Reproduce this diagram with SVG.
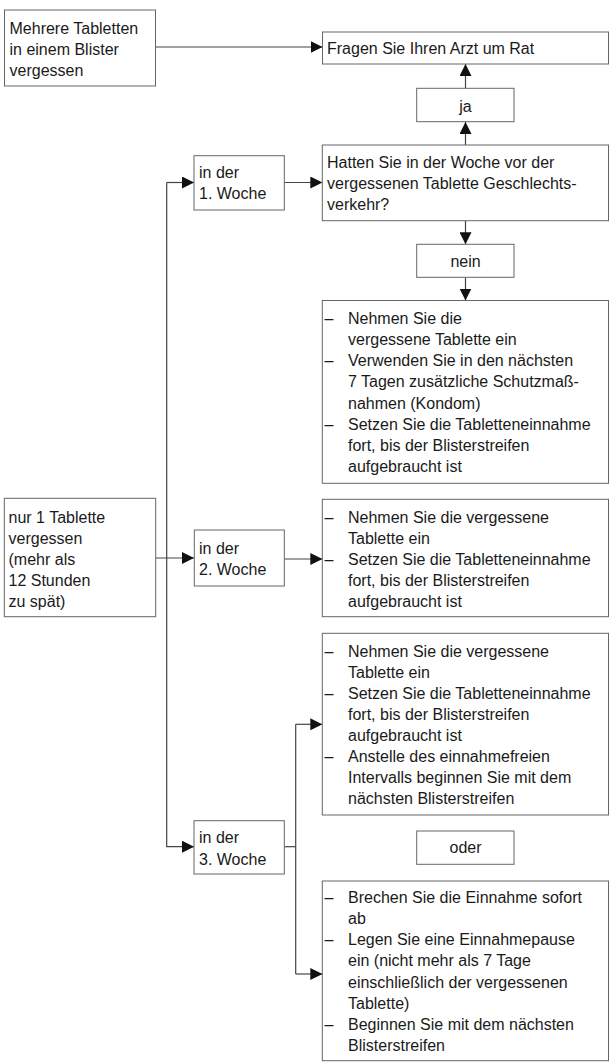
<svg xmlns="http://www.w3.org/2000/svg" width="610" height="1063" viewBox="0 0 610 1063">
<style>
.box{fill:#fff;stroke:#666;stroke-width:1}
.t{font-family:"Liberation Sans",Arial,sans-serif;font-size:16px;fill:#1a1a1a}
.c{text-anchor:middle}
.con{fill:none;stroke:#444;stroke-width:1.2}
</style>
<defs>
<marker id="ah" markerUnits="userSpaceOnUse" markerWidth="12" markerHeight="12" refX="12" refY="6" orient="auto">
<path d="M0,0 L12,6 L0,12 z" fill="#111"/>
</marker>
</defs>
<rect width="610" height="1063" fill="#fff"/>
<g id="connectors">
<path class="con" d="M156,47 H322.5" marker-end="url(#ah)"/>
<path class="con" d="M465.5,145 V122" marker-end="url(#ah)"/>
<path class="con" d="M465.5,88.3 V64" marker-end="url(#ah)"/>
<path class="con" d="M465.5,220.7 V244.3" marker-end="url(#ah)"/>
<path class="con" d="M465.5,277.3 V300.5" marker-end="url(#ah)"/>
<path class="con" d="M166.7,182.5 H194" marker-end="url(#ah)"/>
<path class="con" d="M166.7,182.5 V846.7 H194" marker-end="url(#ah)"/>
<path class="con" d="M155.7,558 H194" marker-end="url(#ah)"/>
<path class="con" d="M284.3,182.5 H322.3" marker-end="url(#ah)"/>
<path class="con" d="M284.3,559 H322.3" marker-end="url(#ah)"/>
<path class="con" d="M284.3,846.7 H295.7"/>
<path class="con" d="M295.7,724.3 V974"/>
<path class="con" d="M295.7,724.3 H322.3" marker-end="url(#ah)"/>
<path class="con" d="M295.7,974 H322.3" marker-end="url(#ah)"/>
</g>
<g id="mehrere">
<rect class="box" x="4.5" y="10" width="151" height="76"/>
<text class="t" x="9.5" y="34.3">Mehrere Tabletten</text>
<text class="t" x="9.5" y="55">in einem Blister</text>
<text class="t" x="9.5" y="75.7">vergessen</text>
</g>
<g id="arzt">
<rect class="box" x="322.5" y="32" width="286" height="32"/>
<text class="t" x="327" y="54">Fragen Sie Ihren Arzt um Rat</text>
</g>
<g id="ja">
<rect class="box" x="416.7" y="88.3" width="97.3" height="33.4"/>
<text class="t c" x="465.5" y="111.7">ja</text>
</g>
<g id="frage">
<rect class="box" x="322.3" y="145" width="286.2" height="75.7"/>
<text class="t" x="327" y="168.3">Hatten Sie in der Woche vor der</text>
<text class="t" x="327" y="189.2">vergessenen Tablette Geschlechts-</text>
<text class="t" x="327" y="210">verkehr?</text>
</g>
<g id="nein">
<rect class="box" x="416.7" y="244.3" width="97.3" height="33"/>
<text class="t c" x="465.5" y="266.7">nein</text>
</g>
<g id="woche1-massnahmen">
<rect class="box" x="322.3" y="300.5" width="286.2" height="182.8"/>
<text class="t" x="324.5" y="324.3">–</text>
<text class="t" x="348" y="324.3">Nehmen Sie die</text>
<text class="t" x="348" y="345.3">vergessene Tablette ein</text>
<text class="t" x="324.5" y="366.4">–</text>
<text class="t" x="348" y="366.4">Verwenden Sie in den nächsten</text>
<text class="t" x="348" y="387.4">7 Tagen zusätzliche Schutzmaß-</text>
<text class="t" x="348" y="408.5">nahmen (Kondom)</text>
<text class="t" x="324.5" y="429.5">–</text>
<text class="t" x="348" y="429.5">Setzen Sie die Tabletteneinnahme</text>
<text class="t" x="348" y="450.6">fort, bis der Blisterstreifen</text>
<text class="t" x="348" y="471.6">aufgebraucht ist</text>
</g>
<g id="nur1">
<rect class="box" x="4.3" y="498.3" width="151.4" height="118.4"/>
<text class="t" x="8.5" y="523.3">nur 1 Tablette</text>
<text class="t" x="8.5" y="544.3">vergessen</text>
<text class="t" x="8.5" y="565.3">(mehr als</text>
<text class="t" x="8.5" y="586.3">12 Stunden</text>
<text class="t" x="8.5" y="607.3">zu spät)</text>
</g>
<g id="woche1">
<rect class="box" x="194" y="155.7" width="90.3" height="54.3"/>
<text class="t" x="199" y="178.3">in der</text>
<text class="t" x="199" y="199.3">1. Woche</text>
</g>
<g id="woche2">
<rect class="box" x="194.3" y="530" width="90" height="56"/>
<text class="t" x="199" y="553.7">in der</text>
<text class="t" x="199" y="574.7">2. Woche</text>
</g>
<g id="woche3">
<rect class="box" x="194" y="820.7" width="90.3" height="53.3"/>
<text class="t" x="199" y="843.3">in der</text>
<text class="t" x="199" y="864.5">3. Woche</text>
</g>
<g id="woche2-massnahmen">
<rect class="box" x="322.3" y="499.3" width="286.2" height="117.4"/>
<text class="t" x="324.5" y="522.7">–</text>
<text class="t" x="348" y="522.7">Nehmen Sie die vergessene</text>
<text class="t" x="348" y="543.8">Tablette ein</text>
<text class="t" x="324.5" y="564.8">–</text>
<text class="t" x="348" y="564.8">Setzen Sie die Tabletteneinnahme</text>
<text class="t" x="348" y="585.9">fort, bis der Blisterstreifen</text>
<text class="t" x="348" y="606.9">aufgebraucht ist</text>
</g>
<g id="woche3-weiter">
<rect class="box" x="322.3" y="633.3" width="286.2" height="181.7"/>
<text class="t" x="324.5" y="656.7">–</text>
<text class="t" x="348" y="656.7">Nehmen Sie die vergessene</text>
<text class="t" x="348" y="677.7">Tablette ein</text>
<text class="t" x="324.5" y="698.8">–</text>
<text class="t" x="348" y="698.8">Setzen Sie die Tabletteneinnahme</text>
<text class="t" x="348" y="719.8">fort, bis der Blisterstreifen</text>
<text class="t" x="348" y="740.9">aufgebraucht ist</text>
<text class="t" x="324.5" y="761.9">–</text>
<text class="t" x="348" y="761.9">Anstelle des einnahmefreien</text>
<text class="t" x="348" y="783">Intervalls beginnen Sie mit dem</text>
<text class="t" x="348" y="804">nächsten Blisterstreifen</text>
</g>
<g id="oder">
<rect class="box" x="416.7" y="831" width="97.3" height="33.3"/>
<text class="t c" x="465.5" y="853.3">oder</text>
</g>
<g id="woche3-pause">
<rect class="box" x="322.3" y="881" width="286.2" height="179.7"/>
<text class="t" x="324.5" y="903.3">–</text>
<text class="t" x="348" y="903.3">Brechen Sie die Einnahme sofort</text>
<text class="t" x="348" y="924.3">ab</text>
<text class="t" x="324.5" y="945.4">–</text>
<text class="t" x="348" y="945.4">Legen Sie eine Einnahmepause</text>
<text class="t" x="348" y="966.4">ein (nicht mehr als 7 Tage</text>
<text class="t" x="348" y="987.5">einschließlich der vergessenen</text>
<text class="t" x="348" y="1008.5">Tablette)</text>
<text class="t" x="324.5" y="1029.6">–</text>
<text class="t" x="348" y="1029.6">Beginnen Sie mit dem nächsten</text>
<text class="t" x="348" y="1050.6">Blisterstreifen</text>
</g>
</svg>
